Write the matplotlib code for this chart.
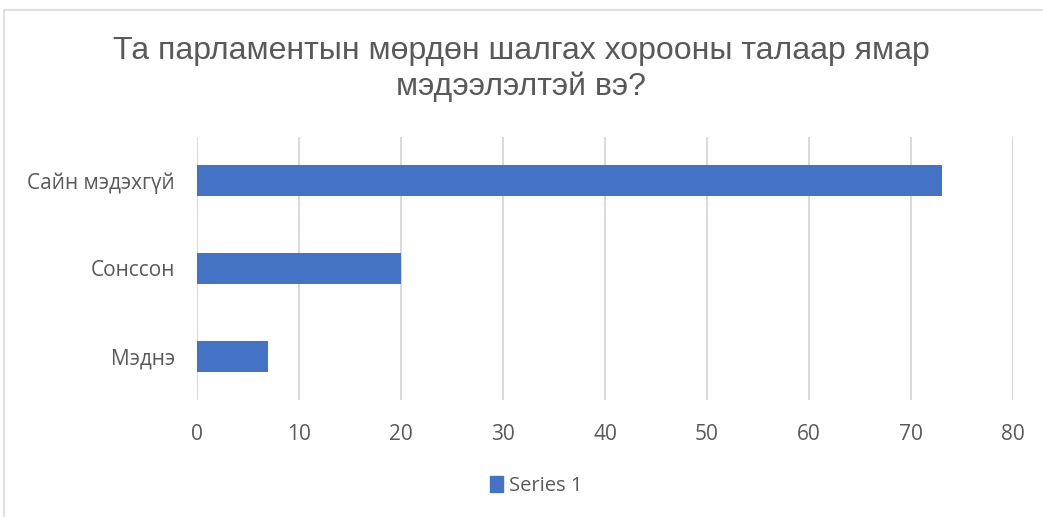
import matplotlib.pyplot as plt
from matplotlib.patches import Rectangle, Patch

# data
categories = ['Мэднэ', 'Сонссон', 'Сайн мэдэхгүй']
values = [7, 20, 73]
x_ticks = [0, 10, 20, 30, 40, 50, 60, 70, 80]
series_name = 'Series 1'
title = 'Та парламентын мөрдөн шалгах хорооны талаар ямар\nмэдээлэлтэй вэ?'

bar_color = '#4472C4'
text_color = '#595959'
grid_color = '#D9D9D9'

plt.rcParams['font.family'] = ['Open Sans', 'DejaVu Sans']

W, H = 1043, 517
fig = plt.figure(figsize=(W / 100, H / 100), dpi=100)

# chart area border (clipped by the image edges on right and bottom)
fig.patches.append(Rectangle((4 / W, -0.1), 1.2, 1 - 10 / H + 0.1,
                             transform=fig.transFigure, fill=False,
                             edgecolor='#D9D9D9', linewidth=1.2))

ax = fig.add_axes([197 / W, 117 / H, (1013 - 197) / W, (400 - 137) / H])
ypos = range(len(categories))
ax.barh(ypos, values, height=0.355, color=bar_color, label=series_name, zorder=3)

ax.set_xlim(0, 80)
ax.set_ylim(-0.5, len(categories) - 0.5)
ax.set_xticks(x_ticks)
ax.set_yticks(list(ypos))
ax.set_yticklabels(categories)
ax.tick_params(axis='both', length=0, labelsize=15, labelcolor=text_color)
ax.tick_params(axis='x', pad=17)
ax.tick_params(axis='y', pad=16)
ax.xaxis.grid(True, color=grid_color, linewidth=1.4, zorder=0)
for s in ax.spines.values():
    s.set_visible(False)

fig.text(0.5, 1 - 69 / H, title, ha='center', va='center', fontsize=23,
         color=text_color, family=['Liberation Sans', 'DejaVu Sans'],
         linespacing=1.22)

fig.legend(handles=[Patch(color=bar_color, label=series_name)],
           loc='center', bbox_to_anchor=(536 / W, 1 - 486 / H),
           frameon=False, fontsize=14.5, labelcolor=text_color,
           handlelength=0.65, handleheight=0.85, handletextpad=0.3)

fig.savefig('out.png', dpi=100)
